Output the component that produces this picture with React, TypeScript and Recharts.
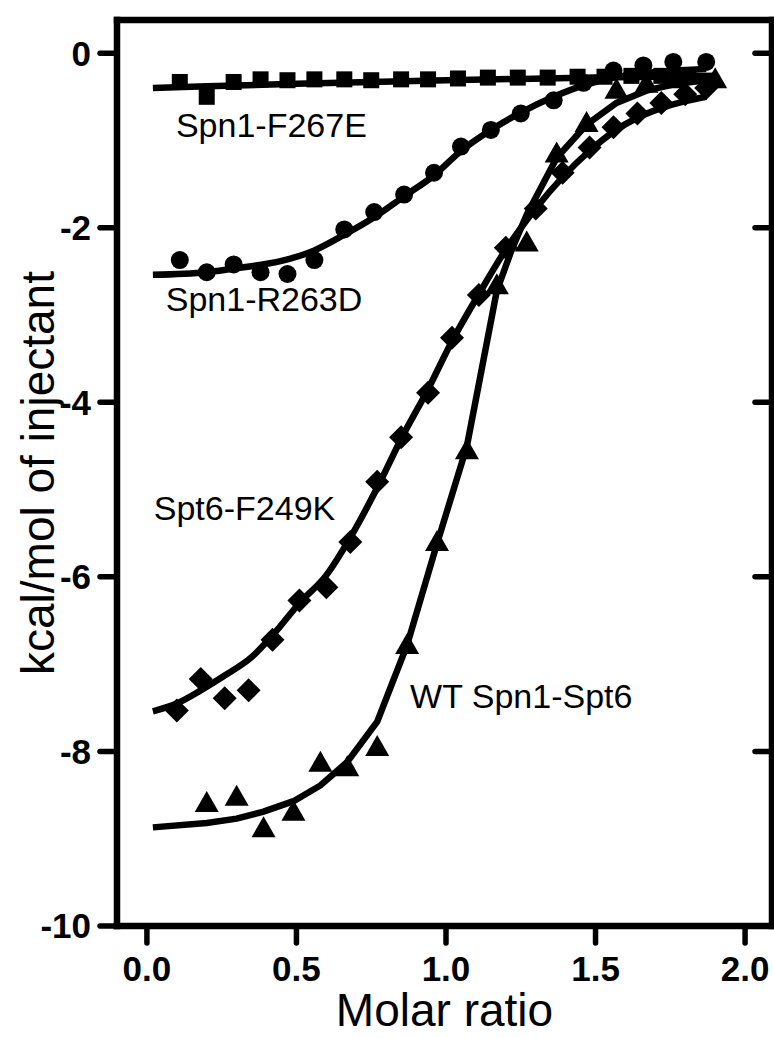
import React from 'react';
import { ComposedChart, XAxis, YAxis, Scatter, Line } from 'recharts';

const FONT = '"Liberation Sans", Arial, Helvetica, sans-serif';

// x ticks / y ticks
const xTicks = [0, 0.5, 1.0, 1.5, 2.0];
const yTicks = [0, -2, -4, -6, -8, -10];

// Spn1-F267E (squares)
const sqX = [0.11, 0.2, 0.29, 0.38, 0.47, 0.56, 0.66, 0.75, 0.85, 0.94, 1.04, 1.14, 1.24, 1.34, 1.44, 1.53, 1.62, 1.72, 1.81];
const sqY = [-0.33, -0.5, -0.33, -0.3, -0.31, -0.3, -0.3, -0.31, -0.3, -0.3, -0.29, -0.28, -0.28, -0.28, -0.27, -0.27, -0.26, -0.26, -0.25];
const sqFitX = [0.02, 0.2, 0.5, 1.0, 1.5, 1.9];
const sqFitY = [-0.4, -0.38, -0.35, -0.31, -0.28, -0.26];

// Spn1-R263D (circles)
const ciX = [0.11, 0.2, 0.29, 0.38, 0.47, 0.56, 0.66, 0.76, 0.86, 0.96, 1.05, 1.15, 1.25, 1.36, 1.46, 1.56, 1.66, 1.76, 1.87];
const ciY = [-2.37, -2.51, -2.42, -2.51, -2.53, -2.37, -2.02, -1.82, -1.62, -1.37, -1.07, -0.88, -0.69, -0.54, -0.34, -0.2, -0.14, -0.1, -0.1];
const ciFitX = [0.02, 0.2, 0.31, 0.45, 0.56, 0.66, 0.76, 0.86, 0.96, 1.05, 1.15, 1.25, 1.36, 1.46, 1.56, 1.66, 1.76, 1.87];
const ciFitY = [-2.54, -2.51, -2.46, -2.38, -2.26, -2.08, -1.88, -1.64, -1.4, -1.12, -0.88, -0.68, -0.5, -0.37, -0.28, -0.23, -0.2, -0.18];

// Spt6-F249K (diamonds)
const diX = [0.1, 0.18, 0.26, 0.34, 0.42, 0.51, 0.6, 0.68, 0.77, 0.85, 0.94, 1.02, 1.11, 1.2, 1.3, 1.39, 1.48, 1.56, 1.64, 1.72, 1.8, 1.87];
const diY = [-7.53, -7.17, -7.39, -7.3, -6.72, -6.27, -6.12, -5.6, -4.91, -4.4, -3.89, -3.26, -2.77, -2.23, -1.78, -1.37, -1.08, -0.85, -0.69, -0.57, -0.47, -0.4];
const diFitX = [0.02, 0.1, 0.18, 0.26, 0.35, 0.42, 0.51, 0.6, 0.68, 0.77, 0.85, 0.94, 1.02, 1.11, 1.2, 1.3, 1.39, 1.48, 1.56, 1.64, 1.72, 1.8, 1.87];
const diFitY = [-7.54, -7.45, -7.3, -7.13, -6.92, -6.67, -6.3, -5.98, -5.55, -4.98, -4.42, -3.85, -3.3, -2.76, -2.25, -1.78, -1.42, -1.12, -0.9, -0.74, -0.63, -0.55, -0.5];

// WT Spn1-Spt6 (triangles)
const trX = [0.2, 0.3, 0.39, 0.49, 0.58, 0.67, 0.77, 0.87, 0.97, 1.07, 1.17, 1.27, 1.37, 1.47, 1.57, 1.67, 1.77, 1.9];
const trY = [-8.59, -8.52, -8.88, -8.69, -8.13, -8.18, -7.95, -6.78, -5.6, -4.55, -2.66, -2.17, -1.15, -0.8, -0.42, -0.35, -0.3, -0.3];
const trFitX = [0.02, 0.2, 0.3, 0.39, 0.49, 0.58, 0.67, 0.77, 0.87, 0.97, 1.07, 1.17, 1.22, 1.27, 1.37, 1.47, 1.57, 1.67, 1.77, 1.9];
const trFitY = [-8.87, -8.82, -8.77, -8.69, -8.57, -8.39, -8.12, -7.66, -6.78, -5.62, -4.5, -2.72, -2.25, -1.85, -1.2, -0.82, -0.57, -0.43, -0.35, -0.3];

// annotations
const labelText = ['Spn1-F267E', 'Spn1-R263D', 'Spt6-F249K', 'WT Spn1-Spt6'];
const labelX = [0.097, 0.063, 0.023, 0.88];
const labelY = [-0.96, -2.95, -5.35, -7.5];

const pts = (xs: number[], ys: number[]) => xs.map((x, i) => ({ x, y: ys[i] }));
const labels = labelText.map((t, i) => ({ x: labelX[i], y: labelY[i], text: t }));

const SquareShape = (p: any) => <rect x={p.cx - 8} y={p.cy - 8} width={16} height={16} fill="#000" />;
const CircleShape = (p: any) => <circle cx={p.cx} cy={p.cy} r={9} fill="#000" />;
const DiamondShape = (p: any) => (
  <polygon points={`${p.cx},${p.cy - 12} ${p.cx + 12},${p.cy} ${p.cx},${p.cy + 12} ${p.cx - 12},${p.cy}`} fill="#000" />
);
const TriangleShape = (p: any) => (
  <polygon points={`${p.cx},${p.cy - 12} ${p.cx + 12},${p.cy + 9} ${p.cx - 12},${p.cy + 9}`} fill="#000" />
);
const TextShape = (p: any) => (
  <text x={p.cx} y={p.cy} fontFamily={FONT} fontSize={34} fill="#000" textAnchor="start">
    {p.payload.text}
  </text>
);
const EmptyTick = () => <g />;

const axisLineStyle = { stroke: '#000', strokeWidth: 6.5, strokeLinecap: 'square' as const };
const tickLineStyle = { stroke: '#000', strokeWidth: 5.5, strokeLinecap: 'round' as const };
const tickStyle = { fill: '#000', fontSize: 35, fontWeight: 'bold', fontFamily: FONT };

const XLabel = (props: any) => {
  const { x, y, width } = props.viewBox;
  return (
    <text x={x + width / 2} y={y + 100} textAnchor="middle" fontFamily={FONT} fontSize={46} fill="#000">
      Molar ratio
    </text>
  );
};
const YLabel = (props: any) => {
  const { x, y, height } = props.viewBox;
  return (
    <text
      transform={`translate(${x + 37},${y + height / 2}) rotate(-90)`}
      textAnchor="middle"
      fontFamily={FONT}
      fontSize={46}
      fill="#000"
    >
      kcal/mol of injectant
    </text>
  );
};

export default function App() {
  const xDomain = [-0.1, 2.09];
  const yDomain = [-10, 0.38];
  return (
    <div style={{ position: 'absolute', left: 0, top: 0, width: 774, height: 1038, background: '#fff' }}>
      <ComposedChart width={774} height={1038} margin={{ top: 20, right: 2, left: 17, bottom: 0 }}>
        <XAxis
          xAxisId="b"
          dataKey="x"
          type="number"
          domain={xDomain}
          ticks={xTicks}
          allowDataOverflow
          height={112}
          tickSize={17}
          tickMargin={13}
          axisLine={axisLineStyle}
          tickLine={tickLineStyle}
          tick={tickStyle}
          tickFormatter={(v: number) => v.toFixed(1)}
          label={{ content: XLabel }}
        />
        <XAxis
          xAxisId="t"
          orientation="top"
          type="number"
          domain={xDomain}
          ticks={xTicks}
          allowDataOverflow
          mirror
          tickSize={17}
          axisLine={axisLineStyle}
          tickLine={tickLineStyle}
          tick={EmptyTick}
        />
        <YAxis
          yAxisId="l"
          dataKey="y"
          type="number"
          domain={yDomain}
          ticks={yTicks}
          allowDataOverflow
          width={100}
          tickSize={17}
          tickMargin={9}
          axisLine={axisLineStyle}
          tickLine={tickLineStyle}
          tick={tickStyle}
          label={{ content: YLabel }}
        />
        <YAxis
          yAxisId="r"
          orientation="right"
          type="number"
          domain={yDomain}
          ticks={yTicks}
          allowDataOverflow
          mirror
          tickSize={17}
          axisLine={axisLineStyle}
          tickLine={tickLineStyle}
          tick={EmptyTick}
        />
        <Line xAxisId="b" yAxisId="l" data={pts(sqFitX, sqFitY)} dataKey="y" type="monotone" stroke="#000" strokeWidth={6.5} dot={false} isAnimationActive={false} />
        <Line xAxisId="b" yAxisId="l" data={pts(ciFitX, ciFitY)} dataKey="y" type="monotone" stroke="#000" strokeWidth={6.5} dot={false} isAnimationActive={false} />
        <Line xAxisId="b" yAxisId="l" data={pts(diFitX, diFitY)} dataKey="y" type="monotone" stroke="#000" strokeWidth={6.5} dot={false} isAnimationActive={false} />
        <Line xAxisId="b" yAxisId="l" data={pts(trFitX, trFitY)} dataKey="y" type="linear" stroke="#000" strokeWidth={6.5} dot={false} isAnimationActive={false} />
        <Scatter xAxisId="b" yAxisId="l" data={pts(sqX, sqY)} shape={SquareShape} isAnimationActive={false} />
        <Scatter xAxisId="b" yAxisId="l" data={pts(ciX, ciY)} shape={CircleShape} isAnimationActive={false} />
        <Scatter xAxisId="b" yAxisId="l" data={pts(diX, diY)} shape={DiamondShape} isAnimationActive={false} />
        <Scatter xAxisId="b" yAxisId="l" data={pts(trX, trY)} shape={TriangleShape} isAnimationActive={false} />
        <Scatter xAxisId="b" yAxisId="l" data={labels} shape={TextShape} isAnimationActive={false} />
      </ComposedChart>
    </div>
  );
}
